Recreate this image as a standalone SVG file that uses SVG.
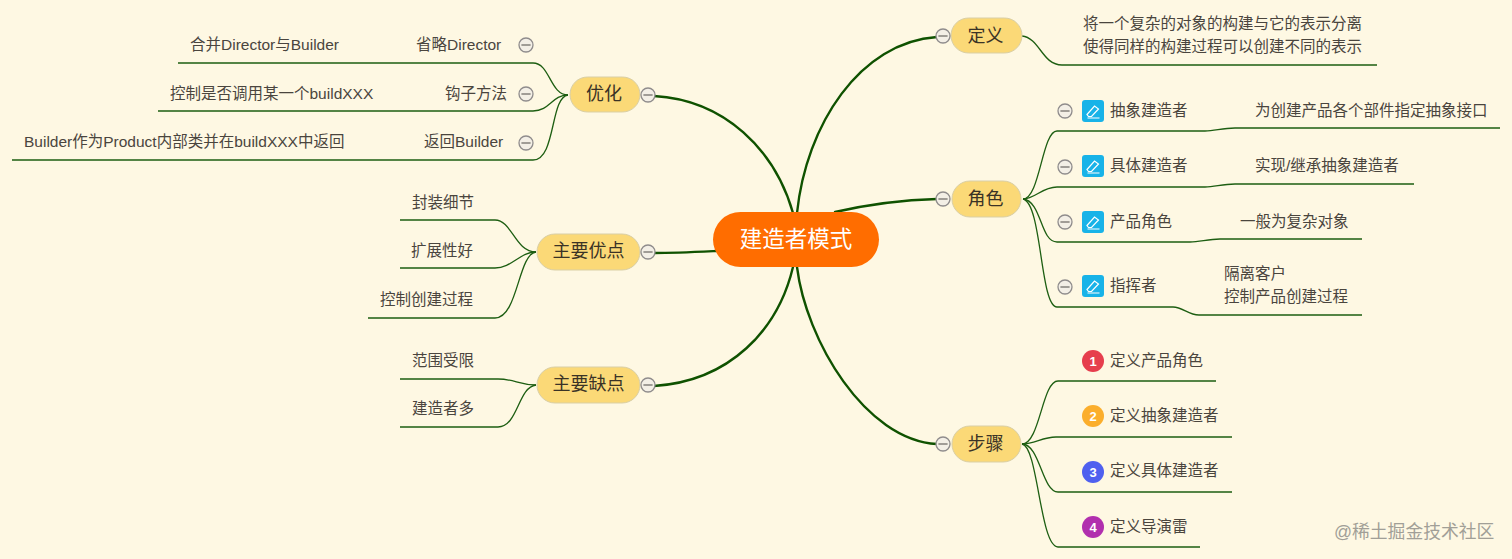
<svg xmlns="http://www.w3.org/2000/svg" width="1512" height="559" viewBox="0 0 1512 559">
<style>
text{font-family:"Liberation Sans","Noto Sans CJK SC",sans-serif;fill:#4a453e;font-size:15.5px}
.m{text-anchor:middle;dominant-baseline:central}
.t{font-size:18px;fill:#3a3326}
.pill{fill:#fbd977;stroke:#d9cfa6;stroke-width:1}
.thick{fill:none;stroke:#0f5200;stroke-width:2.4;stroke-linecap:round}
.thin{fill:none;stroke:#1d5e12;stroke-width:1.3}
.c{fill:#f3efe6;stroke:#8f8c8c;stroke-width:1.3}
.d{stroke:#8b8882;stroke-width:1.6}
.ic{fill:#18b3e8}
.pen{fill:none;stroke:#fff;stroke-width:1.2}
.num{fill:#fff;font-size:13px;font-weight:bold;font-family:"Liberation Sans",sans-serif;text-anchor:middle;dominant-baseline:central}
</style>
<defs>
<g id="minus"><circle class="c" r="7"/><line class="d" x1="-4.6" x2="4.6"/></g>
<g id="pen"><rect class="ic" x="-11" y="-11" width="22" height="22" rx="3"/><path class="pen" d="M-6 3.500 L1.500 -5 L5.500 -2 L-1.500 5.500 L-4.500 5.500 Z M-5.500 7 H6.500"/></g>
</defs>
<rect width="1512" height="559" fill="#fef8e3"/>
<g id="connectors">
<path class="thick" d="M797 213 C806 125 860 42 937 37"/>
<path class="thick" d="M835 212 C870 204 900 200 937 199"/>
<path class="thick" d="M797 267 C806 340 865 440 937 444"/>
<path class="thick" d="M793 213 C775 150 725 100 654 96"/>
<path class="thick" d="M716 251 C695 252 675 253 654 253"/>
<path class="thick" d="M793 267 C778 330 730 381 654 386"/>
<path class="thin" d="M1022 36 C1040 38 1042 65 1062 65 H1377"/>
<path class="thin" d="M1023 199 C1040 199 1042 131 1057 131 H1205 C1215 131 1222 128 1235 128 H1500"/>
<path class="thin" d="M1023 199 C1035 199 1042 187 1057 187 H1205 C1215 187 1222 184 1235 184 H1414"/>
<path class="thin" d="M1023 199 C1042 201 1040 242 1057 242 H1190 C1200 242 1208 239 1220 239 H1362"/>
<path class="thin" d="M1023 199 C1042 203 1040 307 1057 307 H1173 C1183 307 1188 315 1199 315 H1362"/>
<path class="thin" d="M1022 444 C1040 444 1042 381 1058 381 H1216"/>
<path class="thin" d="M1022 444 C1035 444 1042 437 1056 437 H1232"/>
<path class="thin" d="M1022 444 C1040 444 1042 492 1058 492 H1232"/>
<path class="thin" d="M1022 444 C1038 446 1040 547 1058 547 H1200"/>
<path class="thin" d="M568 95 C550 95 550 63 533 63 H178"/>
<path class="thin" d="M568 95 C552 95 550 111 533 111 H158"/>
<path class="thin" d="M568 95 C550 97 556 160 533 160 H12"/>
<path class="thin" d="M536 252 C515 252 512 220 495 220 H400"/>
<path class="thin" d="M536 252 C520 252 512 268 495 268 H400"/>
<path class="thin" d="M536 252 C518 254 518 318 495 318 H368"/>
<path class="thin" d="M536 385 C518 385 515 379 498 379 H400"/>
<path class="thin" d="M536 385 C518 387 518 427 498 427 H400"/>
</g>
<g id="root"><rect x="713" y="212" width="166" height="55" rx="27.500" fill="#ff6d00"/><text class="m" x="796" y="239" style="font-size:22.500px;fill:#fff">建造者模式</text></g>
<g id="n-def"><rect class="pill" x="951" y="18" width="71" height="35" rx="17.500"/><text class="m t" x="985.500" y="36">定义</text><use href="#minus" x="943" y="36"/></g>
<g id="n-role"><rect class="pill" x="952" y="181" width="69" height="36" rx="18"/><text class="m t" x="985.500" y="199">角色</text><use href="#minus" x="943" y="199"/></g>
<g id="n-step"><rect class="pill" x="952" y="426" width="69" height="36" rx="18"/><text class="m t" x="985.500" y="444">步骤</text><use href="#minus" x="943" y="444"/></g>
<g id="n-opt"><rect class="pill" x="570" y="77" width="70" height="35" rx="17.500"/><text class="m t" x="604" y="94">优化</text><use href="#minus" x="648" y="95"/></g>
<g id="n-pro"><rect class="pill" x="537" y="234" width="103" height="36" rx="18"/><text class="m t" x="588.500" y="251">主要优点</text><use href="#minus" x="648" y="252"/></g>
<g id="n-con"><rect class="pill" x="537" y="367" width="103" height="36" rx="18"/><text class="m t" x="588.500" y="384">主要缺点</text><use href="#minus" x="648" y="385"/></g>
<g id="def-text"><text x="1083" y="29">将一个复杂的对象的构建与它的表示分离</text><text x="1083" y="52">使得同样的构建过程可以创建不同的表示</text></g>
<g id="role-1"><use href="#minus" x="1065" y="111"/><use href="#pen" x="1093" y="111"/><text x="1110" y="116">抽象建造者</text><text x="1255" y="116">为创建产品各个部件指定抽象接口</text></g>
<g id="role-2"><use href="#minus" x="1065" y="167"/><use href="#pen" x="1093" y="166"/><text x="1110" y="171">具体建造者</text><text x="1255" y="171">实现/继承抽象建造者</text></g>
<g id="role-3"><use href="#minus" x="1065" y="222"/><use href="#pen" x="1093" y="222"/><text x="1110" y="227">产品角色</text><text x="1240" y="227">一般为复杂对象</text></g>
<g id="role-4"><use href="#minus" x="1065" y="287"/><use href="#pen" x="1093" y="286"/><text x="1110" y="291">指挥者</text><text x="1224" y="279">隔离客户</text><text x="1224" y="302">控制产品创建过程</text></g>
<g id="step-1"><circle cx="1093" cy="361" r="11" fill="#e63e4d"/><text class="num" x="1093" y="361">1</text><text x="1110" y="366">定义产品角色</text></g>
<g id="step-2"><circle cx="1093" cy="416" r="11" fill="#fbae2c"/><text class="num" x="1093" y="416">2</text><text x="1110" y="421">定义抽象建造者</text></g>
<g id="step-3"><circle cx="1093" cy="472" r="11" fill="#4f60ef"/><text class="num" x="1093" y="472">3</text><text x="1110" y="476">定义具体建造者</text></g>
<g id="step-4"><circle cx="1093" cy="527" r="11" fill="#b12fae"/><text class="num" x="1093" y="527">4</text><text x="1110" y="532">定义导演雷</text></g>
<g id="opt-1"><text x="190" y="50">合并Director与Builder</text><text x="416" y="50">省略Director</text><use href="#minus" x="526" y="45"/></g>
<g id="opt-2"><text x="170" y="99">控制是否调用某一个buildXXX</text><text x="445" y="99">钩子方法</text><use href="#minus" x="526" y="94"/></g>
<g id="opt-3"><text x="24" y="147">Builder作为Product内部类并在buildXXX中返回</text><text x="424" y="147">返回Builder</text><use href="#minus" x="526" y="143"/></g>
<g id="pro"><text x="412" y="208">封装细节</text><text x="411" y="256">扩展性好</text><text x="380" y="305">控制创建过程</text></g>
<g id="con"><text x="412" y="366">范围受限</text><text x="412" y="414">建造者多</text></g>
<text id="watermark" x="1334" y="538" style="font-size:17.800px;fill:#a19f97">@稀土掘金技术社区</text>
</svg>
